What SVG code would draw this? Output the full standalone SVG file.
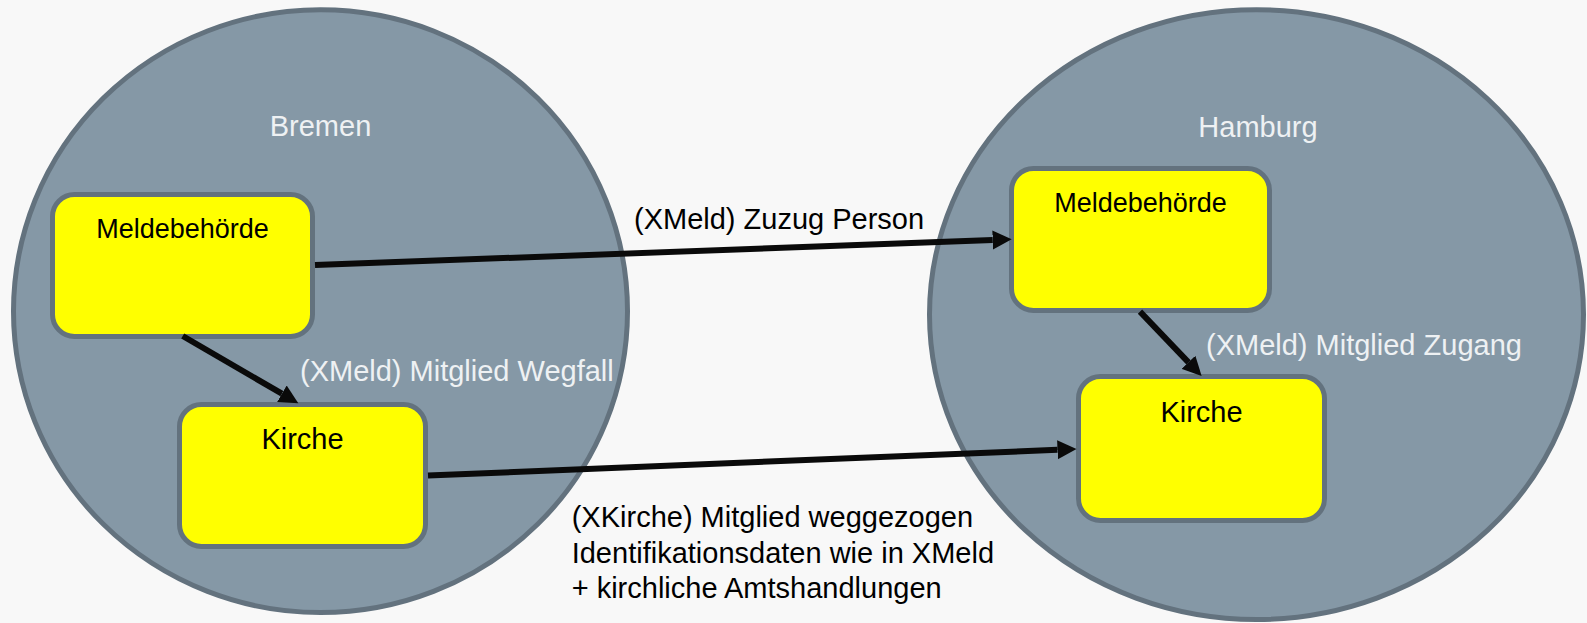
<svg xmlns="http://www.w3.org/2000/svg" width="1587" height="623" viewBox="0 0 1587 623">
<style>
.region{fill:#8598a6;stroke:#63727e;stroke-width:5}
.box{fill:#ffff00;stroke:#63727e;stroke-width:5}
text{font-family:"Liberation Sans",Arial,sans-serif;font-size:29px}
.city{fill:#eef1f3;text-anchor:middle}
.name{fill:#000;text-anchor:middle}
.lbl{fill:#000}
.lbl-light{fill:#eef1f3}
.conn{stroke:#0a0a0a;stroke-width:6;fill:none;marker-end:url(#arrow)}
</style>
<defs>
<marker id="arrow" markerUnits="userSpaceOnUse" markerWidth="20" markerHeight="20" refX="0" refY="9.5" orient="auto" viewBox="0 0 20 19">
<path d="M0,0 L19,9.5 L0,19 z" fill="#0a0a0a"/>
</marker>
</defs>
<rect x="0" y="0" width="1587" height="623" fill="#f8f8f8"/>
<g id="bremen">
<ellipse class="region" cx="320.5" cy="311.2" rx="307" ry="301.4"/>
<text class="city" x="320.5" y="135.7">Bremen</text>
</g>
<g id="hamburg">
<ellipse class="region" cx="1256.5" cy="314.6" rx="327" ry="304.9"/>
<text class="city" x="1258" y="136.7">Hamburg</text>
</g>
<g id="bremen-meldebehoerde">
<rect class="box" x="52.5" y="194.5" width="260" height="142" rx="22"/>
<text class="name" x="182.5" y="238.3" style="font-size:27px">Meldebehörde</text>
</g>
<g id="bremen-kirche">
<rect class="box" x="179.5" y="404.5" width="246" height="142" rx="22"/>
<text class="name" x="302.5" y="449">Kirche</text>
</g>
<g id="hamburg-meldebehoerde">
<rect class="box" x="1011.5" y="168.5" width="258" height="142" rx="22"/>
<text class="name" x="1140.5" y="211.7" style="font-size:27px">Meldebehörde</text>
</g>
<g id="hamburg-kirche">
<rect class="box" x="1078.5" y="376.5" width="246" height="144" rx="22"/>
<text class="name" x="1201.5" y="422.3">Kirche</text>
</g>
<g id="connectors">
<line class="conn" x1="315" y1="265" x2="992.7" y2="240"/>
<line class="conn" x1="428" y1="475.5" x2="1057.5" y2="449.8"/>
<line class="conn" x1="182.7" y1="336" x2="281.9" y2="393.7"/>
<line class="conn" x1="1140" y1="311.7" x2="1188.5" y2="362.3"/>
<text class="lbl" x="634" y="229.3">(XMeld) Zuzug Person</text>
<text class="lbl-light" x="300" y="381">(XMeld) Mitglied Wegfall</text>
<text class="lbl-light" x="1206" y="355">(XMeld) Mitglied Zugang</text>
<text class="lbl" x="571.7" y="526.7">(XKirche) Mitglied weggezogen</text>
<text class="lbl" x="571.7" y="563">Identifikationsdaten wie in XMeld</text>
<text class="lbl" x="571.7" y="598.3">+ kirchliche Amtshandlungen</text>
</g>
</svg>
